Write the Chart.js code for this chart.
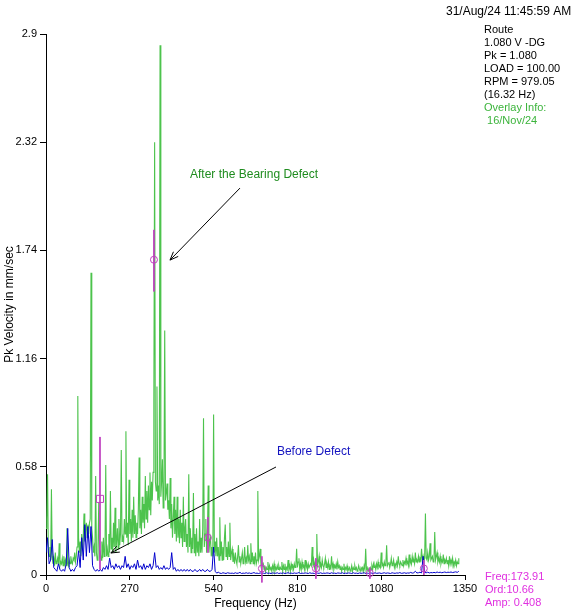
<!DOCTYPE html>
<html><head><meta charset="utf-8">
<script src="https://cdn.jsdelivr.net/npm/chart.js@4.4.1/dist/chart.umd.min.js"></script>
<style>html,body{margin:0;padding:0;background:#fff;}canvas{display:block;}</style>
</head><body>
<canvas id="c" width="578" height="616"></canvas>
<script>
// ---- data ----
const AFTER_STEP = 2.5;  // Hz between transcribed lines of the "after" spectrum
const BEFORE_STEP = 5;   // Hz between transcribed lines of the "before" spectrum
const AFTER_DEFECT = [
0.25,0.30,0.54,0.12,0.10,0.15,0.08,0.46,0.10,0.06,0.09,0.05,0.12,0.06,0.07,0.09,0.06,0.17,0.05,0.07,
0.06,0.09,0.05,0.10,0.06,0.08,0.05,0.25,0.07,0.05,0.08,0.06,0.10,0.07,0.06,0.09,0.08,0.12,0.07,0.10,
0.15,0.96,0.20,0.12,0.18,0.10,0.22,0.14,0.20,0.33,0.18,0.24,0.28,0.20,0.27,0.22,0.28,0.30,1.62,0.25,
0.20,0.12,0.15,0.10,0.53,0.12,0.08,0.14,0.39,0.10,0.12,0.08,0.18,0.09,0.20,0.10,0.12,0.59,0.10,0.14,
0.10,0.22,0.12,0.45,0.14,0.20,0.12,0.28,0.15,0.36,0.12,0.18,0.25,0.14,0.30,0.16,0.22,0.67,0.18,0.20,
0.18,0.30,0.22,0.77,0.20,0.28,0.16,0.51,0.22,0.30,0.18,0.35,0.20,0.42,0.22,0.32,0.20,0.28,0.22,0.35,
0.63,0.25,0.35,0.22,0.42,0.28,0.38,0.25,0.53,0.30,0.45,0.28,0.48,0.35,0.55,0.32,0.50,0.40,0.55,0.94,
2.32,0.50,0.45,1.01,0.40,0.48,0.38,2.84,0.42,0.50,0.62,0.36,0.45,1.31,0.40,0.44,0.49,0.35,0.40,0.30,
0.52,0.25,0.38,0.20,0.30,0.42,0.22,0.35,0.18,0.42,0.20,0.30,0.17,0.35,0.20,0.28,0.15,0.42,0.18,0.25,
0.30,0.15,0.22,0.12,0.54,0.15,0.25,0.12,0.20,0.14,0.44,0.12,0.22,0.10,0.25,0.12,0.18,0.10,0.30,0.12,
0.20,0.12,0.25,0.84,0.15,0.22,0.30,0.12,0.20,0.48,0.12,0.18,0.20,0.10,0.15,0.10,0.86,0.12,0.18,0.10,
0.20,0.10,0.15,0.08,0.31,0.10,0.18,0.08,0.15,0.08,0.20,0.27,0.10,0.15,0.08,0.18,0.10,0.28,0.08,0.12,
0.14,0.07,0.10,0.06,0.12,0.08,0.06,0.10,0.16,0.07,0.10,0.06,0.09,0.12,0.06,0.08,0.15,0.07,0.09,0.06,
0.16,0.08,0.10,0.06,0.17,0.07,0.12,0.06,0.10,0.07,0.12,0.06,0.08,0.45,0.08,0.10,0.14,0.06,0.08,0.05,
0.06,0.03,0.05,0.02,0.04,0.03,0.07,0.02,0.05,0.03,0.04,0.02,0.05,0.03,0.06,0.02,0.04,0.03,0.05,0.03,
0.05,0.03,0.04,0.03,0.07,0.02,0.05,0.03,0.06,0.02,0.04,0.03,0.08,0.03,0.05,0.02,0.06,0.04,0.05,0.03,
0.06,0.04,0.05,0.14,0.04,0.07,0.09,0.03,0.06,0.03,0.07,0.04,0.05,0.03,0.08,0.04,0.06,0.03,0.06,0.04,
0.04,0.06,0.05,0.15,0.05,0.08,0.04,0.07,0.05,0.22,0.05,0.07,0.10,0.04,0.06,0.04,0.08,0.05,0.04,0.06,
0.09,0.04,0.06,0.04,0.07,0.03,0.05,0.04,0.10,0.04,0.06,0.03,0.05,0.04,0.06,0.03,0.07,0.04,0.05,0.03,
0.05,0.02,0.04,0.03,0.06,0.02,0.04,0.03,0.05,0.02,0.03,0.04,0.02,0.03,0.05,0.02,0.04,0.03,0.05,0.03,
0.04,0.02,0.03,0.05,0.03,0.02,0.04,0.03,0.04,0.02,0.05,0.03,0.14,0.03,0.04,0.02,0.03,0.02,0.04,0.03,
0.05,0.03,0.06,0.04,0.05,0.03,0.06,0.04,0.07,0.04,0.05,0.04,0.12,0.05,0.06,0.04,0.07,0.05,0.06,0.16,
0.05,0.06,0.07,0.04,0.06,0.09,0.05,0.06,0.08,0.04,0.06,0.05,0.07,0.05,0.10,0.06,0.05,0.07,0.06,0.05,
0.08,0.05,0.07,0.06,0.09,0.06,0.07,0.05,0.11,0.06,0.08,0.06,0.10,0.07,0.08,0.06,0.12,0.07,0.08,0.07,
0.10,0.07,0.09,0.08,0.14,0.08,0.10,0.07,0.09,0.33,0.09,0.08,0.12,0.08,0.10,0.17,0.08,0.09,0.10,0.07,
0.08,0.23,0.08,0.10,0.12,0.07,0.09,0.07,0.10,0.06,0.08,0.07,0.11,0.06,0.08,0.07,0.09,0.06,0.08,0.05,
0.10,0.06,0.08,0.06,0.09,0.05,0.07,0.06,0.08,0.05,0.07,0.06,0.09
];
const BEFORE_DEFECT = [
0.12,0.20,0.06,0.08,0.19,0.04,0.03,0.02,0.06,0.03,
0.02,0.03,0.02,0.06,0.25,0.04,0.02,0.03,0.02,0.04,
0.05,0.13,0.04,0.20,0.08,0.27,0.10,0.26,0.12,0.26,
0.05,0.03,0.02,0.03,0.02,0.03,0.02,0.04,0.03,0.05,
0.03,0.09,0.04,0.05,0.03,0.06,0.04,0.05,0.03,0.05,
0.04,0.10,0.04,0.06,0.03,0.05,0.04,0.06,0.03,0.08,
0.04,0.05,0.03,0.06,0.03,0.05,0.04,0.06,0.03,0.05,
0.12,0.04,0.05,0.03,0.04,0.03,0.05,0.03,0.04,0.03,
0.04,0.12,0.03,0.04,0.02,0.03,0.02,0.03,0.02,0.03,
0.02,0.03,0.02,0.03,0.02,0.02,0.03,0.02,0.02,0.03,
0.02,0.03,0.02,0.02,0.03,0.02,0.02,0.03,0.15,0.02,
0.010,0.015,0.010,0.008,0.012,0.010,0.008,0.012,0.010,0.009,
0.010,0.008,0.012,0.009,0.010,0.014,0.008,0.010,0.009,0.012,
0.009,0.011,0.008,0.010,0.013,0.009,0.010,0.008,0.011,0.009,
0.010,0.008,0.012,0.009,0.010,0.008,0.011,0.010,0.009,0.012,
0.008,0.010,0.009,0.011,0.008,0.010,0.012,0.009,0.010,0.008,
0.011,0.009,0.010,0.013,0.008,0.010,0.009,0.011,0.010,0.008,
0.012,0.009,0.010,0.008,0.011,0.010,0.009,0.012,0.008,0.010,
0.009,0.011,0.010,0.008,0.012,0.009,0.010,0.008,0.011,0.010,
0.009,0.012,0.008,0.010,0.009,0.011,0.010,0.008,0.012,0.009,
0.010,0.008,0.011,0.009,0.010,0.012,0.008,0.010,0.009,0.011,
0.010,0.008,0.012,0.009,0.010,0.011,0.008,0.010,0.012,0.009,
0.011,0.010,0.008,0.012,0.010,0.009,0.011,0.010,0.013,0.009,
0.010,0.012,0.009,0.011,0.010,0.014,0.010,0.012,0.020,0.011,
0.012,0.015,0.011,0.100,0.014,0.012,0.015,0.011,0.013,0.012,
0.014,0.012,0.016,0.013,0.015,0.012,0.014,0.016,0.013,0.015,
0.014,0.016,0.013,0.015,0.017,0.014,0.020
];
const X_TICKS = [0, 270, 540, 810, 1080, 1350];
const Y_TICKS = [0, 0.58, 1.16, 1.74, 2.32, 2.9];
const Y_TICK_LABELS = ['0', '0.58', '1.16', '1.74', '2.32', '2.9'];
const CURSOR_FREQ = 173.91, CURSOR_ORDER = 10.66, CURSOR_AMP = 0.408;
const CURSOR_LINE = [0.74, 0.03];
const HARMONIC_FREQS = [347.8, 521.7, 695.6, 869.6, 1043.5, 1217.4];
const HARMONIC_AMPS  = [1.69, 0.20, 0.035, 0.035, 0.01, 0.035];
const HARMONIC_LINE_TOP = [1.85, 0.31, 0.10, 0.09, 0.04, 0.08];
const HARMONIC_LINE_BOT = [1.52, 0.12, -0.04, -0.02, -0.02, 0.0];
const DATE_TEXT = '31/Aug/24 11:45:59 AM';
const INFO_LINES = ['Route', '1.080 V -DG', 'Pk = 1.080', 'LOAD = 100.00', 'RPM = 979.05', '(16.32 Hz)'];
const OVERLAY_LINES = ['Overlay Info:', ' 16/Nov/24'];
const ANNOTATIONS = [
  {text: 'After the Bearing Defect', color: '#1f8c1f', at: [464, 2.144], from: [625, 2.074], to: [399.5, 1.688]},
  {text: 'Before Defect', color: '#1414c0', at: [744, 0.659], from: [741, 0.579], to: [209, 0.118]}
];

// ---- build datasets ----
const toPts = (arr, step) => arr.map((v, i) => ({x: i * step, y: v}));
const markerLinePts = [];
markerLinePts.push({x: CURSOR_FREQ, y: CURSOR_LINE[0]}, {x: CURSOR_FREQ, y: CURSOR_LINE[1]}, {x: CURSOR_FREQ, y: null});
HARMONIC_FREQS.forEach((f, i) => {
  markerLinePts.push({x: f, y: HARMONIC_LINE_TOP[i]}, {x: f, y: HARMONIC_LINE_BOT[i]}, {x: f, y: null});
});
const FONT = '"Liberation Sans", Arial, sans-serif';
const MAGENTA = '#c040c0';

const textPlugin = {
  id: 'texts',
  afterDraw(chart) {
    const ctx = chart.ctx, xs = chart.scales.x, ys = chart.scales.y;
    ctx.save();
    ctx.textBaseline = 'middle';
    ctx.textAlign = 'left';
    ctx.fillStyle = '#000';
    ctx.font = '12px ' + FONT;
    ctx.fillText(DATE_TEXT, 446, 12);
    ctx.font = '11px ' + FONT;
    INFO_LINES.forEach((t, i) => ctx.fillText(t, 484, 30 + i * 13));
    ctx.fillStyle = '#3cb43c';
    OVERLAY_LINES.forEach((t, i) => ctx.fillText(t, 484, 30 + (INFO_LINES.length + i) * 13));
    ctx.fillStyle = '#e030e0';
    ctx.fillText('Freq:' + CURSOR_FREQ.toFixed(2), 485, 577);
    ctx.fillText('Ord:' + CURSOR_ORDER.toFixed(2), 485, 590);
    ctx.fillText('Amp: ' + CURSOR_AMP.toFixed(3), 485, 603);
    ctx.font = '12px ' + FONT;
    ANNOTATIONS.forEach(a => {
      ctx.fillStyle = a.color;
      ctx.fillText(a.text, xs.getPixelForValue(a.at[0]), ys.getPixelForValue(a.at[1]));
      const x1 = xs.getPixelForValue(a.from[0]), y1 = ys.getPixelForValue(a.from[1]);
      const x2 = xs.getPixelForValue(a.to[0]), y2 = ys.getPixelForValue(a.to[1]);
      ctx.strokeStyle = '#000'; ctx.lineWidth = 1;
      ctx.beginPath(); ctx.moveTo(x1, y1); ctx.lineTo(x2, y2); ctx.stroke();
      const ang = Math.atan2(y2 - y1, x2 - x1), L = 9, w = 0.38;
      ctx.beginPath();
      ctx.moveTo(x2 - L * Math.cos(ang - w), y2 - L * Math.sin(ang - w));
      ctx.lineTo(x2, y2);
      ctx.lineTo(x2 - L * Math.cos(ang + w), y2 - L * Math.sin(ang + w));
      ctx.stroke();
    });
    ctx.restore();
  }
};

new Chart(document.getElementById('c'), {
  type: 'line',
  data: {
    datasets: [
      {data: [{x: CURSOR_FREQ, y: CURSOR_AMP}], showLine: false, pointStyle: 'rect', pointRadius: 5,
       borderColor: MAGENTA, backgroundColor: 'rgba(255,255,255,0)', borderWidth: 1, clip: false},
      {data: HARMONIC_FREQS.map((f, i) => ({x: f, y: HARMONIC_AMPS[i]})), showLine: false, pointStyle: 'circle',
       pointRadius: 3.5, borderColor: MAGENTA, backgroundColor: 'rgba(255,255,255,0)', borderWidth: 1, clip: false},
      {data: markerLinePts, borderColor: MAGENTA, borderWidth: 1, pointRadius: 0, spanGaps: false, clip: false},
      {data: toPts(BEFORE_DEFECT, BEFORE_STEP), borderColor: '#0000cc', borderWidth: 1, pointRadius: 0, tension: 0},
      {data: toPts(AFTER_DEFECT, AFTER_STEP), borderColor: '#4cc34c', borderWidth: 1.1, pointRadius: 0, tension: 0}
    ]
  },
  options: {
    responsive: false, animation: false, devicePixelRatio: 1,
    layout: {padding: {top: 34, right: 113, left: 0, bottom: 0}},
    plugins: {legend: {display: false}, tooltip: {enabled: false}},
    elements: {line: {borderJoinStyle: 'miter'}},
    scales: {
      x: {
        type: 'linear', min: 0, max: 1350,
        afterBuildTicks: s => { s.ticks = X_TICKS.map(v => ({value: v})); },
        afterFit: s => { s.height = 41; },
        ticks: {color: '#000', font: {family: FONT, size: 11}, padding: 2, maxRotation: 0,
                callback: v => String(v)},
        grid: {drawOnChartArea: false, drawTicks: true, tickLength: 5, color: '#000'},
        border: {display: true, color: '#000', width: 1},
        title: {display: true, text: 'Frequency (Hz)', color: '#000', font: {family: FONT, size: 12}, padding: {top: 0, bottom: 5}}
      },
      y: {
        type: 'linear', min: 0, max: 2.9,
        afterBuildTicks: s => { s.ticks = Y_TICKS.map(v => ({value: v})); },
        afterFit: s => { s.width = 46; },
        ticks: {color: '#000', font: {family: FONT, size: 11}, padding: 3,
                callback: (v, i) => Y_TICK_LABELS[i]},
        grid: {drawOnChartArea: false, drawTicks: true, tickLength: 6, color: '#000'},
        border: {display: true, color: '#000', width: 1},
        title: {display: true, text: 'Pk Velocity in mm/sec', color: '#000', font: {family: FONT, size: 12}, padding: {top: 2, bottom: 0}}
      }
    }
  },
  plugins: [textPlugin]
});
</script>
</body></html>
